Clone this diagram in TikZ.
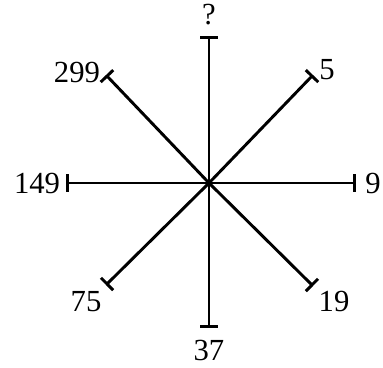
\documentclass[tikz,border=0pt]{standalone}
\usepackage{fontspec}
\setmainfont{Liberation Serif}
\usetikzlibrary{arrows.meta}
\tikzset{
  arm/.style={line width=2.2pt,-{Bar[width=13pt,line width=2.2pt]}},
  num/.style={font=\fontsize{23}{26}\selectfont,inner sep=0pt}
}
\begin{document}
\begin{tikzpicture}[x=0.75pt,y=-0.75pt]
\useasboundingbox (0,0) rectangle (383,368);
\coordinate (c) at (209,183);
% arm ends and their numbers
\foreach \n/\x/\y/\lx/\ly/\t in {a/209/36/209/15/?,b/313/75/327/70/5,c/356/183/373/183/9,
  d/313/286/334/301/19,e/209/328/209/350/37,f/106/285/86/302/75,
  g/66/183/37/183/149,h/106/75/77/72/299}{
  \coordinate (e\n) at (\x,\y);
  \node[num] (l\n) at (\lx,\ly) {\t};
  \draw[arm] (c) -- (e\n);
}
\end{tikzpicture}
\end{document}
